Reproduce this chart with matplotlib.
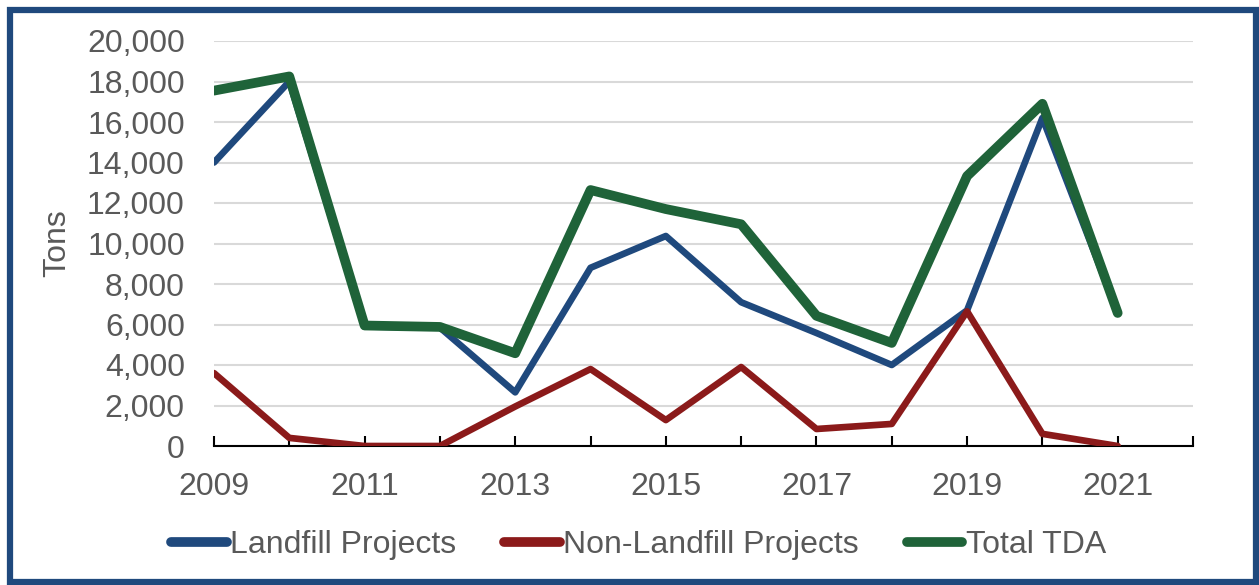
import matplotlib.pyplot as plt
from matplotlib.patches import Rectangle
from matplotlib.ticker import FuncFormatter, MultipleLocator

plt.rcParams['font.family'] = ['Liberation Sans', 'DejaVu Sans']

years = list(range(2009, 2022))
landfill = [14000, 18000, 5900, 5850, 2650, 8800, 10370, 7100, 5580, 4000, 6700, 16200, 6570]
non_landfill = [3600, 400, 0, 0, 1950, 3800, 1280, 3900, 840, 1090, 6650, 600, 0]
total_tda = [17550, 18250, 5950, 5880, 4580, 12640, 11700, 10950, 6430, 5090, 13330, 16900, 6570]

c_blue = '#1f497d'
c_red = '#8b1a1a'
c_green = '#1f6339'
c_text = '#595959'

fig = plt.figure(figsize=(12.59, 5.85), dpi=100)
ax = fig.add_axes([214 / 1259, 1 - 446 / 585, (1193 - 214) / 1259, (446 - 41) / 585])

kw = dict(solid_joinstyle='round', solid_capstyle='round')
ax.plot(years, landfill, color=c_blue, lw=4.8, label='Landfill Projects', **kw)
ax.plot(years, non_landfill, color=c_red, lw=4.8, label='Non-Landfill Projects', **kw)
ax.plot(years, total_tda, color=c_green, lw=7, label='Total TDA', **kw)

ax.set_xlim(2009, 2022)
ax.set_ylim(0, 20000)
ax.yaxis.set_major_locator(MultipleLocator(2000))
ax.yaxis.set_major_formatter(FuncFormatter(lambda v, p: f'{int(v):,}'))
ax.set_xticks(range(2009, 2023))
ax.set_xticklabels([str(y) if y % 2 == 1 and y < 2022 else '' for y in range(2009, 2023)])
ax.grid(axis='y', color='#d9d9d9', lw=1.5)
ax.set_axisbelow(True)
for s in ['top', 'right', 'left']:
    ax.spines[s].set_visible(False)
ax.spines['bottom'].set_color('black')
ax.spines['bottom'].set_linewidth(1.5)
ax.spines['bottom'].set_zorder(1.5)
ax.tick_params(axis='y', length=0, labelsize=23, labelcolor=c_text, pad=21)
ax.tick_params(axis='x', direction='in', length=7, width=1.5, labelsize=23,
               labelcolor=c_text, pad=19)
ax.set_ylabel('Tons', fontsize=23, color=c_text, labelpad=11)

leg = fig.legend(loc='center', bbox_to_anchor=(0.507, 1 - 545 / 585), ncol=3, frameon=False,
                 fontsize=23, handlelength=1.75, handletextpad=0.1, columnspacing=1.5)
for t in leg.get_texts():
    t.set_color(c_text)
for h in leg.legend_handles:
    h.set_linewidth(7)
    h.set_solid_capstyle('round')

fig.patches.append(Rectangle((10 / 1259, 3 / 585), 1246 / 1259, 572 / 585,
                             transform=fig.transFigure, fill=False,
                             edgecolor=c_blue, lw=4.5))

fig.savefig('out.png', dpi=100)
